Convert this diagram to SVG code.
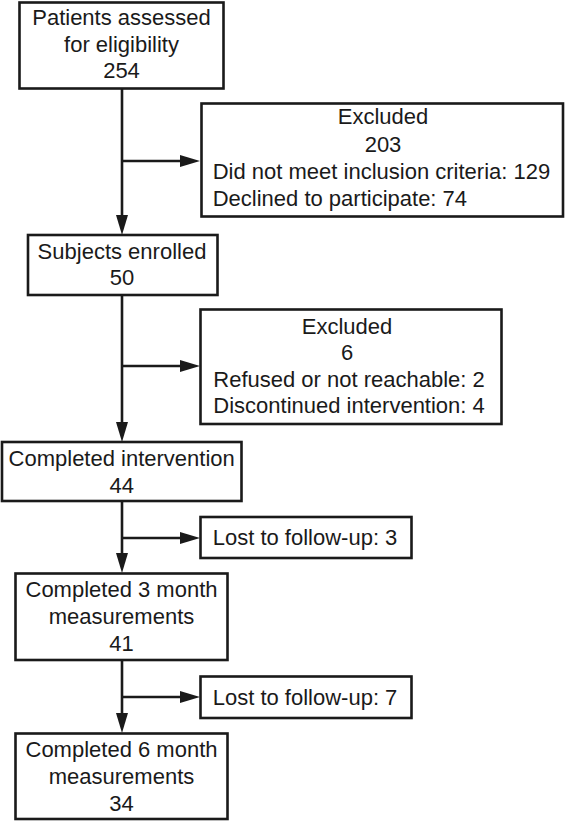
<svg xmlns="http://www.w3.org/2000/svg" width="567" height="822" viewBox="0 0 567 822">
<style>
.box{fill:#fff;stroke:#1a1a1a;stroke-width:2.6}
.t{font-family:"Liberation Sans",Arial,sans-serif;font-size:22px;fill:#1a1a1a}
.c{text-anchor:middle}
.ln{fill:none;stroke:#1a1a1a;stroke-width:2.6;marker-end:url(#ah)}
</style>
<defs>
<marker id="ah" markerUnits="userSpaceOnUse" markerWidth="20" markerHeight="12" refX="10" refY="6" orient="auto" viewBox="0 0 20 12">
<path d="M0,0 L20,6 L0,12 z" fill="#1a1a1a"/>
</marker>
</defs>
<rect width="567" height="822" fill="#fff"/>
<g id="connectors">
<path class="ln" d="M122,89 V225"/>
<path class="ln" d="M122,161 H190"/>
<path class="ln" d="M122,296 V432"/>
<path class="ln" d="M122,366 H190"/>
<path class="ln" d="M122,502 V563"/>
<path class="ln" d="M122,538 H190"/>
<path class="ln" d="M122,661 V723"/>
<path class="ln" d="M122,697 H190"/>
</g>
<g id="assessed">
<rect class="box" x="19.5" y="2.5" width="204" height="86"/>
<text class="t c" x="121.5" y="25">Patients assessed</text>
<text class="t c" x="121.5" y="51.7">for eligibility</text>
<text class="t c" x="121.5" y="77.7">254</text>
</g>
<g id="excluded1">
<rect class="box" x="201.5" y="103.5" width="361.5" height="113"/>
<text class="t c" x="383" y="124.3">Excluded</text>
<text class="t c" x="383" y="151.7">203</text>
<text class="t" x="212.7" y="179">Did not meet inclusion criteria: 129</text>
<text class="t" x="212.7" y="205.7">Declined to participate: 74</text>
</g>
<g id="enrolled">
<rect class="box" x="28" y="235" width="189.5" height="60"/>
<text class="t c" x="122" y="259.3">Subjects enrolled</text>
<text class="t c" x="122" y="285">50</text>
</g>
<g id="excluded2">
<rect class="box" x="200.5" y="309.5" width="301" height="114.5"/>
<text class="t c" x="347" y="334.3">Excluded</text>
<text class="t c" x="347" y="360">6</text>
<text class="t" x="213.3" y="387.3">Refused or not reachable: 2</text>
<text class="t" x="213.3" y="413.3">Discontinued intervention: 4</text>
</g>
<g id="completed">
<rect class="box" x="2" y="442" width="239.5" height="59"/>
<text class="t c" x="121.7" y="466">Completed intervention</text>
<text class="t c" x="121.7" y="493.3">44</text>
</g>
<g id="lost3">
<rect class="box" x="200.5" y="517" width="211" height="41"/>
<text class="t" x="212.7" y="545">Lost to follow-up: 3</text>
</g>
<g id="month3">
<rect class="box" x="15.5" y="573.5" width="212" height="86.5"/>
<text class="t c" x="121.5" y="596.7">Completed 3 month</text>
<text class="t c" x="121.5" y="624">measurements</text>
<text class="t c" x="121.5" y="650.7">41</text>
</g>
<g id="lost7">
<rect class="box" x="200.5" y="676.5" width="211" height="41.5"/>
<text class="t" x="212.7" y="705">Lost to follow-up: 7</text>
</g>
<g id="month6">
<rect class="box" x="15.5" y="733.5" width="212" height="85.5"/>
<text class="t c" x="121.5" y="756.7">Completed 6 month</text>
<text class="t c" x="121.5" y="784.3">measurements</text>
<text class="t c" x="121.5" y="811">34</text>
</g>
</svg>
